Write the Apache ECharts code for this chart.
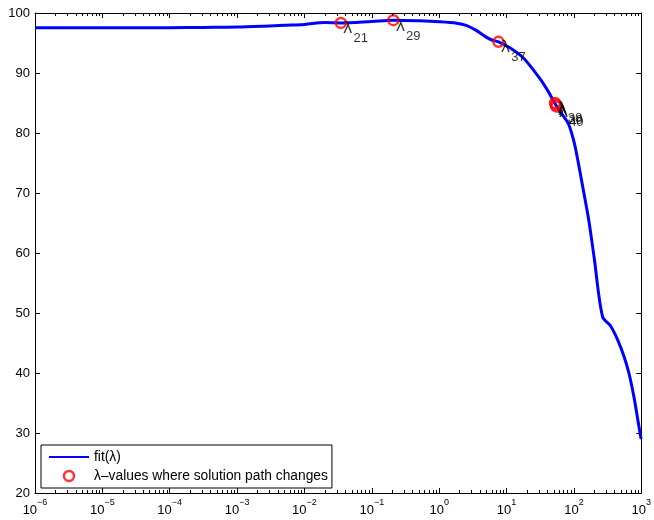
<!DOCTYPE html>
<html>
<head>
<meta charset="utf-8">
<script src="https://cdn.jsdelivr.net/npm/echarts@6/dist/echarts.min.js"></script>
<style>html,body{margin:0;padding:0;background:#fff;}#c{width:654px;height:520px;}</style>
</head>
<body>
<div id="c"></div>
<script>
// ---- data ----
var lambdaFit = [1e-6, 1e-5, 1e-4, 3.16e-4, 1e-3, 2.51e-3, 5.01e-3, 0.01, 0.02, 0.0347, 0.1, 0.209, 0.501, 1, 1.82, 2.57, 3.55, 4.79, 6.03, 7.59, 11.2, 17.8, 30.2, 41.7, 53.7, 66.1, 83.2, 100, 112, 138, 166, 200, 266, 352, 443, 553, 655, 776, 871, 975, 1000];
var fitValues = [97.55, 97.55, 97.55, 97.6, 97.65, 97.8, 97.95, 98.1, 98.4, 98.35, 98.6, 98.8, 98.7, 98.55, 98.3, 97.9, 97.1, 96.1, 95.5, 95.2, 94.2, 92.5, 89.3, 86.9, 84.7, 83.2, 81.5, 78.6, 76.0, 70.5, 65.5, 59.2, 49.4, 47.8, 45.6, 42.8, 40.0, 36.1, 32.8, 29.5, 29.0];
var changeLambda = [0.0347, 0.209, 7.59, 52.5, 53.7, 55.0];
var changeFit = [98.35, 98.8, 95.2, 85.0, 84.7, 84.4];
var changeIndex = ['21', '29', '37', '38', '39', '40'];
var xTickExponents = [-6, -5, -4, -3, -2, -1, 0, 1, 2, 3];
var yTicks = [20, 30, 40, 50, 60, 70, 80, 90, 100];
var minorMultipliers = [2, 3, 4, 5, 6, 7, 8, 9];

var minorTicks = [];
for (var i = 0; i < xTickExponents.length - 1; i++) {
  for (var j = 0; j < minorMultipliers.length; j++) {
    minorTicks.push([minorMultipliers[j] * Math.pow(10, xTickExponents[i]), 20]);
  }
}
var fitData = lambdaFit.map(function (l, k) { return [l, fitValues[k]]; });
var changeData = changeLambda.map(function (l, k) { return { value: [l, changeFit[k]], name: changeIndex[k] }; });

var FONT = 'Liberation Sans, Arial, Helvetica, sans-serif';
var xMin = Math.pow(10, xTickExponents[0]);
var xMax = Math.pow(10, xTickExponents[xTickExponents.length - 1]);

var chart = echarts.init(document.getElementById('c'), null, { renderer: 'canvas' });
var baseX = {
  type: 'log', logBase: 10, min: xMin, max: xMax,
  axisLine: { show: true, lineStyle: { color: '#000', width: 1 } },
  axisTick: { show: true, inside: true, length: 5, lineStyle: { color: '#000', width: 1 } },
  splitLine: { show: false }, minorTick: { show: false }
};
var baseY = {
  type: 'value', min: yTicks[0], max: yTicks[yTicks.length - 1], interval: 10,
  axisLine: { show: true, lineStyle: { color: '#000', width: 1 } },
  axisTick: { show: true, inside: true, length: 5, lineStyle: { color: '#000', width: 1 } },
  splitLine: { show: false }
};
chart.setOption({
  animation: false,
  backgroundColor: '#fff',
  grid: { left: 35, right: 8, top: 13, bottom: 27, containLabel: false },
  xAxis: [
    Object.assign({}, baseX, {
      position: 'bottom',
      axisLabel: {
        show: true, margin: 8, color: '#000', fontFamily: FONT,
        formatter: function (v) {
          var e = Math.round(Math.log(v) / Math.LN10);
          var s = e < 0 ? '\u2212' + (-e) : String(e);
          return '{b|10}{s|' + s + '}';
        },
        rich: {
          b: { fontSize: 13, lineHeight: 13, padding: [6, 0, 0, 0], color: '#000', fontFamily: FONT },
          s: { fontSize: 9, lineHeight: 9, padding: [0, 0, 10, 0], color: '#000', fontFamily: FONT }
        }
      }
    }),
    Object.assign({}, baseX, { position: 'top', axisLabel: { show: false } })
  ],
  yAxis: [
    Object.assign({}, baseY, {
      position: 'left',
      axisLabel: { show: true, margin: 5, color: '#000', fontSize: 13, fontFamily: FONT }
    }),
    Object.assign({}, baseY, { position: 'right', axisLabel: { show: false } })
  ],
  legend: {
    orient: 'vertical', left: 41, top: 445,
    padding: [5, 4, 5, 7], itemGap: 5, itemWidth: 40, itemHeight: 10,
    backgroundColor: '#fff', borderColor: '#000', borderWidth: 1, borderRadius: 0,
    textStyle: { color: '#000', fontSize: 13.8, lineHeight: 14, fontFamily: FONT },
    selectedMode: false,
    data: [
      { name: 'fit(\u03bb)', itemStyle: { color: 'rgba(0,0,0,0)', borderWidth: 0, opacity: 0 } },
      { name: '\u03bb\u2013values where solution path changes', icon: 'circle',
        itemStyle: { color: 'rgba(0,0,0,0)', borderColor: '#ff0000', borderWidth: 2.5 } }
    ]
  },
  series: [
    {
      name: 'fit(\u03bb)', type: 'line', data: fitData, symbol: 'none', showSymbol: false,
      smooth: 0.3,
      lineStyle: { color: '#0000ff', width: 3 }, itemStyle: { color: '#0000ff' }, z: 3, clip: false
    },
    {
      name: '\u03bb\u2013values where solution path changes', type: 'scatter', data: changeData,
      symbol: 'circle', symbolSize: 10, z: 4,
      itemStyle: { color: 'rgba(0,0,0,0)', borderColor: '#ff0000', borderWidth: 2.5 },
      label: {
        show: true, position: 'right', distance: -4, offset: [0, 10], color: '#000',
        formatter: function (p) { return '{a|\u03bb}{n|' + p.name + '}'; },
        rich: {
          a: { fontSize: 16, lineHeight: 17, padding: [0, 0, 7.5, 0], color: '#000', fontFamily: 'DejaVu Sans, sans-serif' },
          n: { fontSize: 13, lineHeight: 13, padding: [11.5, 0, 0, 1], color: '#000', fontFamily: FONT }
        }
      },
      emphasis: { disabled: true }
    },
    {
      name: 'minorTicks', type: 'custom', data: minorTicks, silent: true, z: 5, clip: false,
      renderItem: function (params, api) {
        var v = api.value(0);
        var b = api.coord([v, yTicks[0]]);
        var t = api.coord([v, yTicks[yTicks.length - 1]]);
        var st = { stroke: '#000', lineWidth: 1 };
        return { type: 'group', children: [
          { type: 'line', shape: { x1: Math.round(b[0]) + 0.5, y1: b[1], x2: Math.round(b[0]) + 0.5, y2: b[1] - 3 }, style: st },
          { type: 'line', shape: { x1: Math.round(t[0]) + 0.5, y1: t[1], x2: Math.round(t[0]) + 0.5, y2: t[1] + 3 }, style: st }
        ] };
      }
    }
  ]
});
</script>
</body>
</html>
